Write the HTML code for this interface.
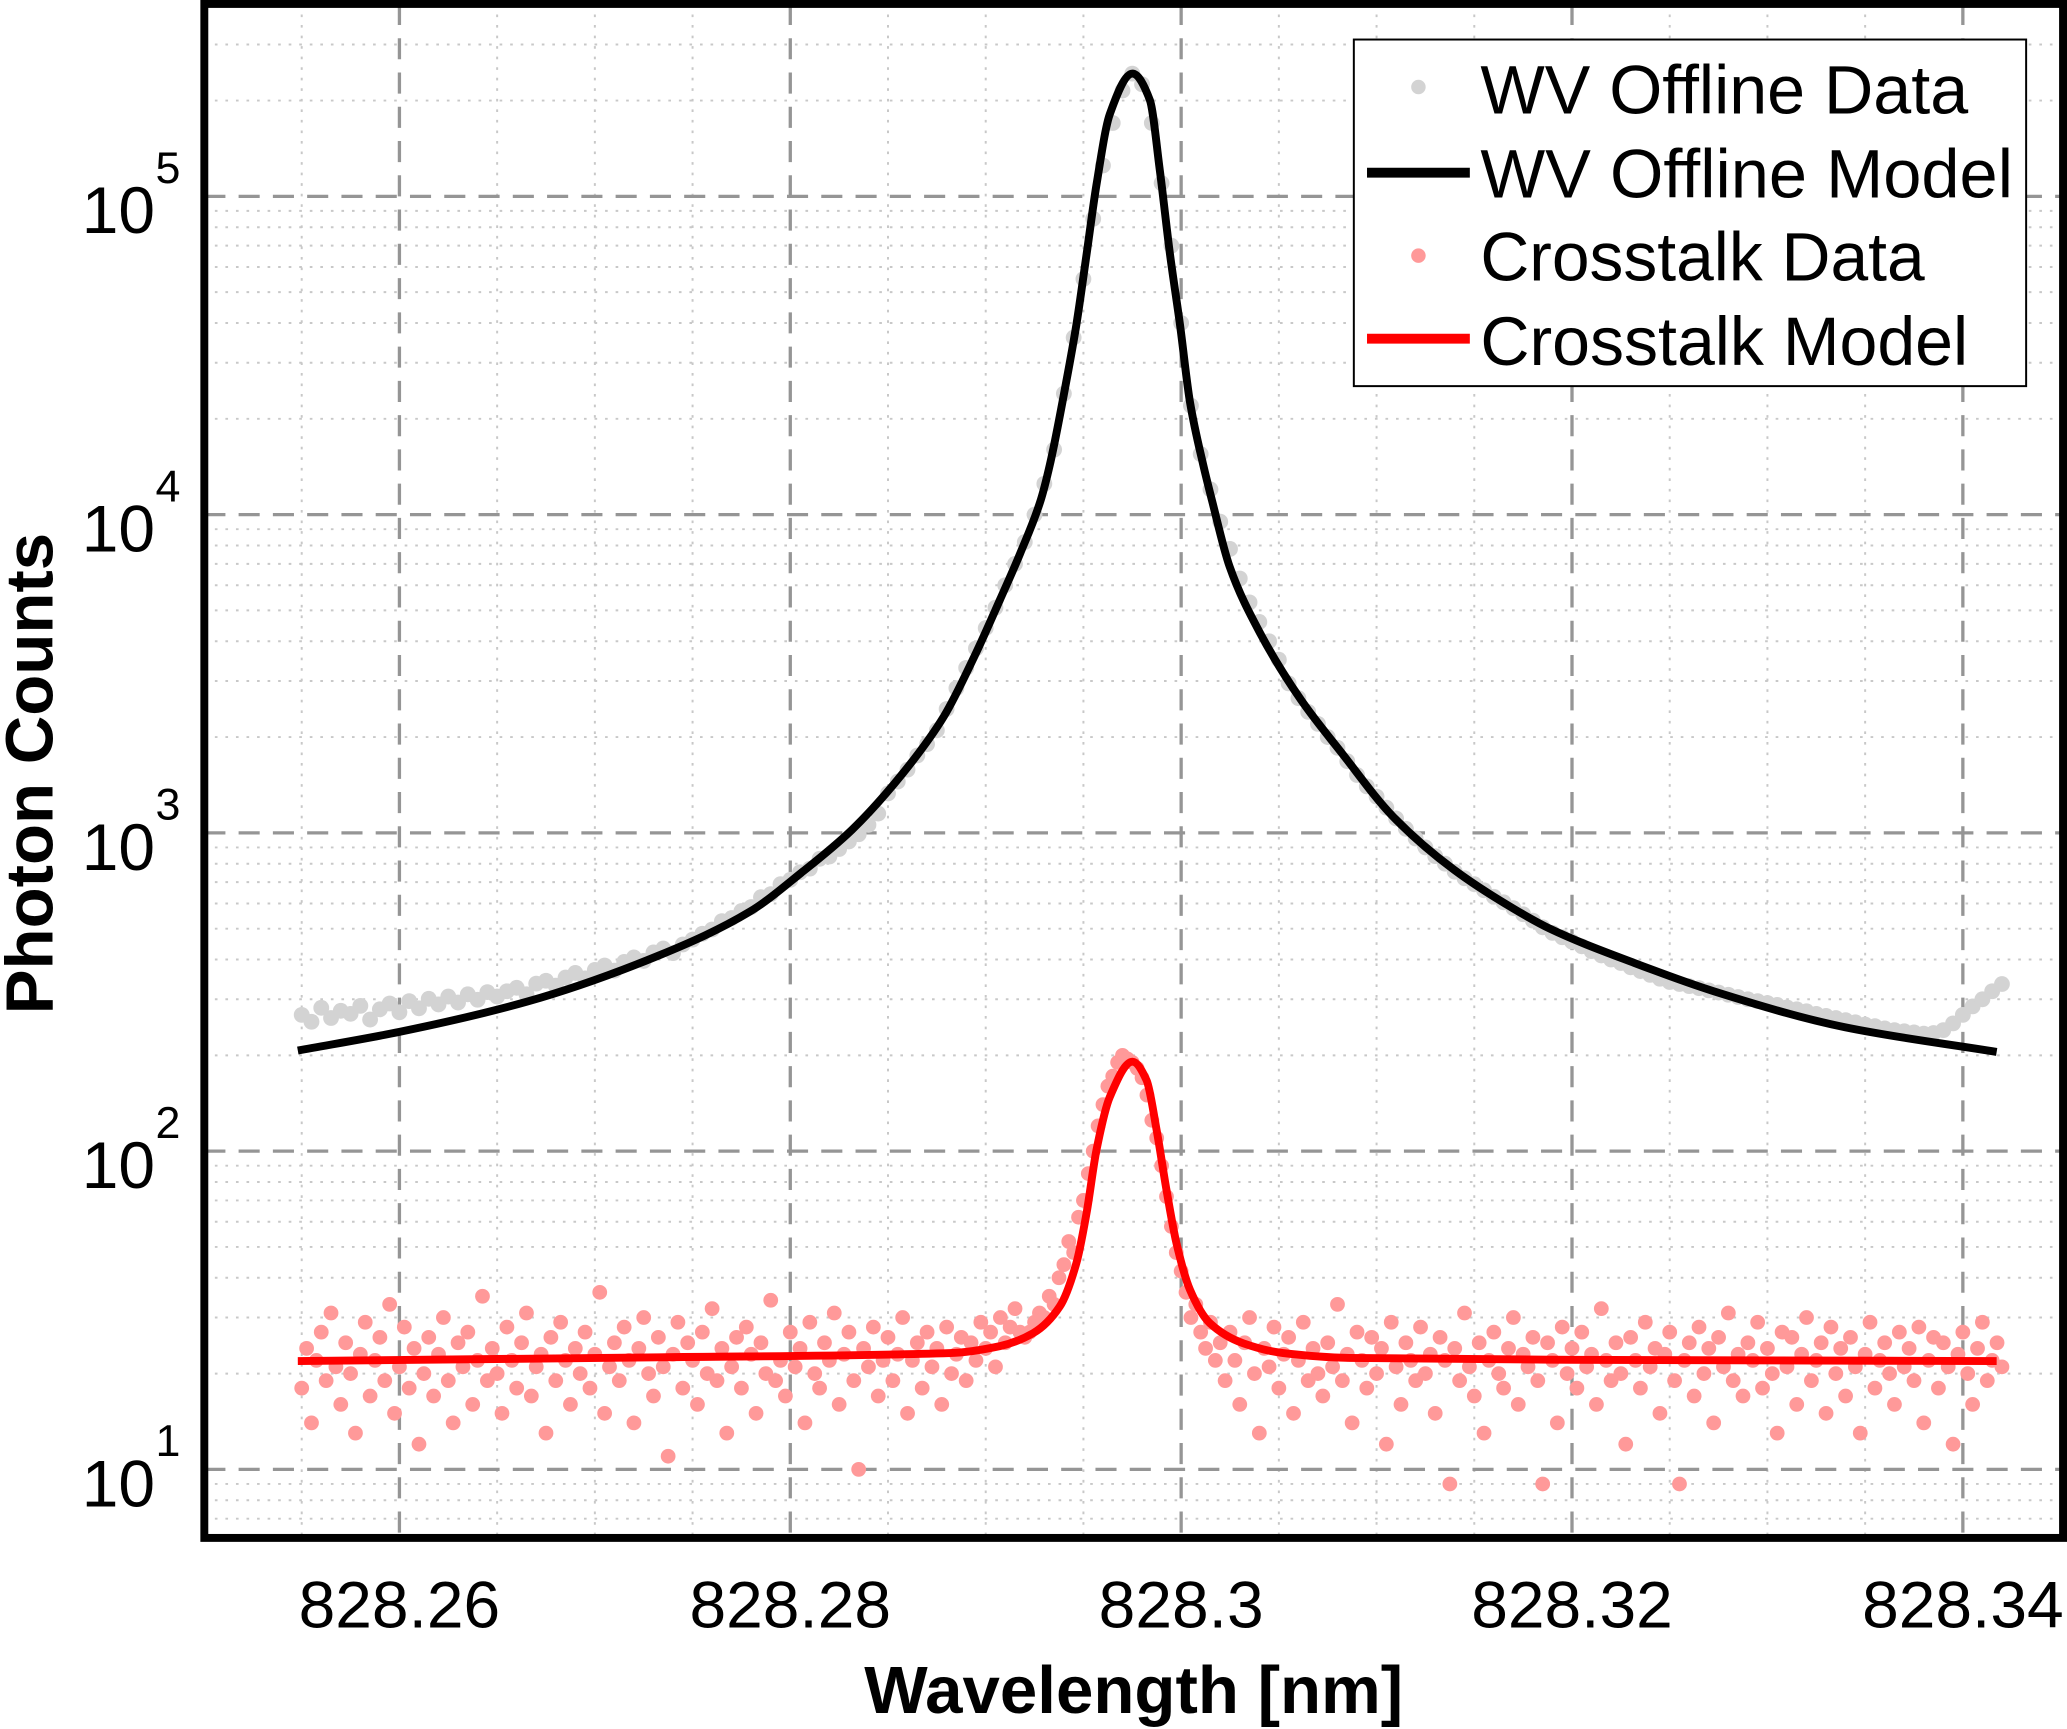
<!DOCTYPE html>
<html><head><meta charset="utf-8"><style>
html,body{margin:0;padding:0;background:#fff;}
svg{display:block;font-family:"Liberation Sans",Arial,sans-serif;}
</style></head><body>
<svg id="chart" width="2067" height="1729" viewBox="0 0 1568 1312" preserveAspectRatio="none" xmlns="http://www.w3.org/2000/svg">
<defs><clipPath id="plotclip"><rect x="155" y="3" width="1410" height="1164"/></clipPath></defs>
<rect width="1568" height="1312" fill="#fff"/>
<g id="grid"></g>
<g id="marks" clip-path="url(#plotclip)"></g>
<rect x="155" y="3" width="1410" height="1164" fill="none" stroke="#000" stroke-width="6"/>
<g id="ticks"></g>
<text x="860" y="1300" font-size="51" font-weight="bold" text-anchor="middle">Wavelength [nm]</text>
<text transform="translate(40,587) rotate(-90)" font-size="51" font-weight="bold" text-anchor="middle">Photon Counts</text>
<g>
<rect x="1027" y="30" width="510" height="263" fill="#fff" stroke="#000" stroke-width="1.5"/>
<g><circle cx="1076" cy="66" r="5.5" fill="#d3d3d3"/><text x="1123" y="86" font-size="52" textLength="370" lengthAdjust="spacingAndGlyphs">WV Offline Data</text></g>
<g><line x1="1037" y1="131" x2="1115" y2="131" stroke="#000" stroke-width="7.5"/><text x="1123" y="150" font-size="52" textLength="404" lengthAdjust="spacingAndGlyphs">WV Offline Model</text></g>
<g><circle cx="1076" cy="194" r="5.5" fill="#ff9999"/><text x="1123" y="213" font-size="52" textLength="337" lengthAdjust="spacingAndGlyphs">Crosstalk Data</text></g>
<g><line x1="1037" y1="257" x2="1115" y2="257" stroke="#ff0000" stroke-width="7.5"/><text x="1123" y="277" font-size="52" textLength="370" lengthAdjust="spacingAndGlyphs">Crosstalk Model</text></g>
</g>
</svg>
<script>
const xTickValues=[828.26,828.28,828.3,828.32,828.34];
const xTickLabels=["828.26","828.28","828.3","828.32","828.34"];
const yTickExponents=[1,2,3,4,5];
const dataStart=828.255;
const wvDataStep=0.0005;
const wvData=[268,255,282,262,276,270,286,259,279,291,273,296,281,301,289,306,293,311,299,316,306,
318,326,311,336,343,331,351,363,349,371,383,369,393,406,396,421,433,419,446,462,
482,497,528,540,568,585,628,642,690,712,752,772,829,843,890,940,990,1060,1150,1330,
1450,1580,1750,1900,2100,2450,2850,3300,3800,4400,5100,6000,7000,8200,10000,12500,16000,24000,36000,55000,
85000,125000,170000,215000,243000,225000,170000,110000,70000,40000,22000,15500,12000,9500,7800,6300,5300,4600,4000,3500,
2950,2650,2400,2200,2000,1850,1680,1520,1400,1300,1200,1110,1030,960,900,845,800,755,720,690,
660,630,605,580,555,530,505,485,470,455,440,425,412,400,390,378,368,358,348,340,
335,330,325,320,315,310,305,300,296,292,288,283,279,275,270,266,262,258,254,250,
247,243,240,238,236,234,235,240,252,268,285,300,318,335];
const ctDataStep=0.00025;
const ctData=[18,24,14,22,27,19,31,21,16,25,20,13,23,29,17,22,26,19,33,15,
21,28,18,24,12,20,26,17,23,30,19,14,25,21,27,16,22,35,19,24,
20,15,28,22,18,25,31,17,21,23,13,26,19,29,22,16,24,20,27,18,
23,36,15,21,25,19,28,22,14,24,30,20,17,26,21,11,23,29,18,25,
22,16,27,20,32,19,24,13,21,26,18,28,23,15,25,20,34,19,22,17,
27,21,24,14,29,20,18,25,22,31,16,23,27,19,10,24,21,28,17,22,
26,19,23,30,15,22,25,18,27,21,24,16,28,20,23,26,19,25,22,29,
24,27,21,30,25,28,32,27,
26,27,29,31,30,35,33,40,44,52,48,62,70,85,100,120,140,160,172,190,
200,195,190,182,170,150,125,110,90,72,58,48,42,36,30,33,27,24,29,22,25,
19,27,22,16,25,30,20,13,24,21,28,18,23,26,15,22,29,19,24,20,
17,25,21,33,19,23,14,27,22,18,26,20,24,12,29,21,16,25,22,19,
28,20,23,15,26,22,9,24,19,31,21,17,25,13,22,27,20,18,24,30,
16,23,21,26,19,9,25,22,14,28,20,24,18,27,21,23,16,32,22,19,
25,20,12,26,22,18,29,21,24,15,23,27,19,9,22,25,17,28,20,24,
14,26,21,31,19,23,17,25,22,29,18,24,20,13,27,21,26,16,23,30,
19,22,25,15,28,20,24,17,26,21,13,23,29,18,22,25,20,16,27,21,
24,19,28,14,22,26,18,25,21,12,23,27,20,16,24,29,19,22,25,21];
const wvModelX=[828.2548,828.26,828.26654,828.27328,828.27794,828.28055,828.28316,828.28577,828.28786,828.28942,828.29073,828.29177,828.29282,828.29328,828.29413,828.29464,828.29516,828.29567,828.29635,828.29751,828.2984,828.29891,828.29943,828.29994,828.30045,828.30113,828.30157,828.30248,828.30404,828.30613,828.30822,828.31083,828.31396,828.31709,828.31887,828.3232,828.32725,828.33397,828.34173];
const wvModelY=[207,237,295,412,566,748,1023,1542,2323,3584,5402,7571,11130,14330,26340,39550,65700,109000,181300,243200,200600,120600,65700,39550,22620,14330,11130,6869,4243,2619,1782,1127,766,574,500,390,318,245,205];
const ctModelX=[828.2548,828.27328,828.28817,828.29073,828.29243,828.29379,828.29464,828.29516,828.29567,828.29635,828.29751,828.29823,828.29874,828.29925,828.29976,828.30045,828.30147,828.30318,828.30522,828.30863,828.32,828.34173];
const ctModelY=[21.9,22.5,23.2,24.4,26.8,32.5,44.5,63.9,101,148,191,167,117,75.5,51.4,36.7,28.8,24.9,23.2,22.4,22.1,21.9];

const NS="http://www.w3.org/2000/svg";
function xs(w){return 303+(w-828.26)*14825;}
function ys(v){return 1115-(Math.log10(v)-1)*241.5;}
function mk(tag,attrs,parent){const e=document.createElementNS(NS,tag);for(const k in attrs)e.setAttribute(k,attrs[k]);parent.appendChild(e);return e;}
const grid=document.getElementById('grid'),marks=document.getElementById('marks'),ticks=document.getElementById('ticks');
for(let k=0;k<20;k++){const w=828.255+k*0.005;const x=xs(w);if(x<158||x>1562)continue;if(Math.abs(((w-828.26)/0.02)-Math.round((w-828.26)/0.02))<1e-6)continue;
const l=mk('line',{x1:x,y1:3,x2:x,y2:1167,stroke:'#c8c8c8','stroke-width':1.5,'stroke-dasharray':'2 6'},grid);

}
for(let d=0;d<6;d++){for(let m=2;m<=9;m++){const v=m*Math.pow(10,d);const y=ys(v);if(y<6||y>1164)continue;
const l=mk('line',{x1:155,y1:y,x2:1565,y2:y,stroke:'#c8c8c8','stroke-width':1.5,'stroke-dasharray':'2 6'},grid);

}}
xTickValues.forEach((w,i)=>{const x=xs(w);
const l=mk('line',{x1:x,y1:3,x2:x,y2:1167,stroke:'#959595','stroke-width':2.5,'stroke-dasharray':'16 10'},grid);


const t=mk('text',{x:x,y:1235,'font-size':50,'text-anchor':'middle'},ticks);t.textContent=xTickLabels[i];

});
yTickExponents.forEach(e=>{const y=ys(Math.pow(10,e));
const l=mk('line',{x1:155,y1:y,x2:1565,y2:y,stroke:'#959595','stroke-width':2.5,'stroke-dasharray':'16 10'},grid);


const g=mk('g',{},ticks);


const t=mk('text',{x:62,y:y+28,'font-size':50},g);t.textContent='10';
const s=mk('text',{x:118,y:y-10,'font-size':34},g);s.textContent=String(e);});
wvData.forEach((v,i)=>{const c=mk('circle',{cx:xs(dataStart+i*wvDataStep),cy:ys(v),r:6,fill:'#d3d3d3'},marks);

});
ctData.forEach((v,i)=>{const c=mk('circle',{cx:xs(dataStart+i*ctDataStep),cy:ys(v),r:5.6,fill:'#ff9999'},marks);

});
function smooth(xArr,yArr){const X=xArr.map(xs),Y=yArr.map(ys),n=X.length;
const dl=[],m=[];for(let i=0;i<n-1;i++)dl.push((Y[i+1]-Y[i])/(X[i+1]-X[i]));
m[0]=dl[0];m[n-1]=dl[n-2];
for(let i=1;i<n-1;i++){if(dl[i-1]*dl[i]<=0)m[i]=0;else{const h0=X[i]-X[i-1],h1=X[i+1]-X[i];const w1=2*h1+h0,w2=h1+2*h0;m[i]=(w1+w2)/(w1/dl[i-1]+w2/dl[i]);}}
let d='M'+X[0]+','+Y[0];
for(let i=0;i<n-1;i++){const h=X[i+1]-X[i];d+=' C'+(X[i]+h/3)+','+(Y[i]+m[i]*h/3)+' '+(X[i+1]-h/3)+','+(Y[i+1]-m[i+1]*h/3)+' '+X[i+1]+','+Y[i+1];}
return d;}
const wl=mk('path',{d:smooth(wvModelX,wvModelY),fill:'none',stroke:'#000','stroke-width':6,'stroke-linejoin':'round'},marks);


const cl=mk('path',{d:smooth(ctModelX,ctModelY),fill:'none',stroke:'#ff0000','stroke-width':6,'stroke-linejoin':'round'},marks);


</script>
</body></html>
